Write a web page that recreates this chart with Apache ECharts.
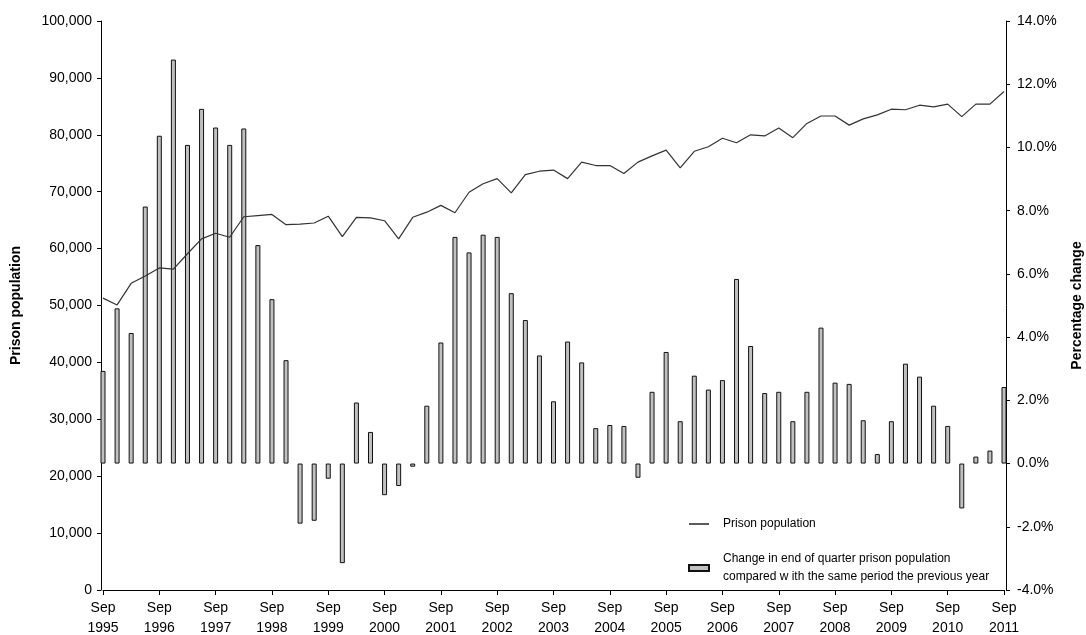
<!DOCTYPE html>
<html>
<head>
<meta charset="utf-8">
<script src="https://cdn.jsdelivr.net/npm/echarts@6/dist/echarts.min.js"></script>
<style>
  html, body { margin: 0; padding: 0; background: #fff; }
  #prison-chart { width: 1086px; height: 635px; }
</style>
</head>
<body>
<div id="prison-chart"></div>
<script>
// quarterly, Sep 1995 .. Sep 2011
const quarters = [
  'Sep 1995', 'Dec 1995', 'Mar 1996', 'Jun 1996', 'Sep 1996', 'Dec 1996', 'Mar 1997', 'Jun 1997',
  'Sep 1997', 'Dec 1997', 'Mar 1998', 'Jun 1998', 'Sep 1998', 'Dec 1998', 'Mar 1999', 'Jun 1999',
  'Sep 1999', 'Dec 1999', 'Mar 2000', 'Jun 2000', 'Sep 2000', 'Dec 2000', 'Mar 2001', 'Jun 2001',
  'Sep 2001', 'Dec 2001', 'Mar 2002', 'Jun 2002', 'Sep 2002', 'Dec 2002', 'Mar 2003', 'Jun 2003',
  'Sep 2003', 'Dec 2003', 'Mar 2004', 'Jun 2004', 'Sep 2004', 'Dec 2004', 'Mar 2005', 'Jun 2005',
  'Sep 2005', 'Dec 2005', 'Mar 2006', 'Jun 2006', 'Sep 2006', 'Dec 2006', 'Mar 2007', 'Jun 2007',
  'Sep 2007', 'Dec 2007', 'Mar 2008', 'Jun 2008', 'Sep 2008', 'Dec 2008', 'Mar 2009', 'Jun 2009',
  'Sep 2009', 'Dec 2009', 'Mar 2010', 'Jun 2010', 'Sep 2010', 'Dec 2010', 'Mar 2011', 'Jun 2011',
  'Sep 2011'
];

const population = [
  51300, 50100, 53900, 55200, 56600, 56400, 59100, 61700,
  62700, 62000, 65600, 65800, 66000, 64200, 64300, 64500,
  65700, 62100, 65500, 65400, 64900, 61700, 65500, 66400,
  67600, 66300, 69900, 71400, 72300, 69800, 73000, 73600,
  73800, 72300, 75200, 74600, 74600, 73200, 75200, 76300,
  77300, 74200, 77100, 77900, 79400, 78600, 80000, 79800,
  81200, 79500, 82000, 83300, 83300, 81700, 82800, 83500,
  84500, 84400, 85200, 84900, 85400, 83200, 85400, 85400,
  87600
];

const pctChange = [
  2.93, 4.91, 4.13, 8.13, 10.37, 12.78, 10.08, 11.22,
  10.63, 10.08, 10.60, 6.91, 5.20, 3.27, -1.90, -1.81,
  -0.48, -3.15, 1.93, 1.00, -1.00, -0.71, -0.10, 1.83,
  3.83, 7.17, 6.68, 7.24, 7.17, 5.39, 4.54, 3.42,
  1.97, 3.86, 3.20, 1.12, 1.22, 1.19, -0.45, 2.27,
  3.53, 1.34, 2.78, 2.34, 2.64, 5.84, 3.72, 2.23,
  2.27, 1.34, 2.27, 4.30, 2.56, 2.52, 1.37, 0.30,
  1.34, 3.16, 2.75, 1.83, 1.19, -1.42, 0.22, 0.41,
  2.42
];

const popTicks = { min: 0, max: 100000, interval: 10000 };
const pctTicks = { min: -4, max: 14, interval: 2 };

const lineName = 'Prison population';
const barName = 'Change in end of quarter prison population\ncompared w ith the same period the previous year';

const font = 'Liberation Sans, Arial, sans-serif';

const myChart = echarts.init(document.getElementById('prison-chart'));
const option = {
  animation: false,
  textStyle: { fontFamily: font },
  grid: {
    left: 103,
    right: 82,
    top: 21,
    bottom: 45,
    outerBoundsMode: 'none'
  },
  legend: {
    orient: 'vertical',
    left: 683,
    top: 510,
    itemWidth: 20,
    itemHeight: 6,
    itemGap: 17,
    textStyle: { fontFamily: font, fontSize: 12, color: '#000', lineHeight: 18, padding: [0, 0, 0, 9] },
    data: [
      { name: lineName, icon: 'path://M0,0H20V1.6H0Z' },
      { name: barName, icon: 'rect' }
    ]
  },
  xAxis: {
    type: 'category',
    boundaryGap: false,
    data: quarters,
    axisLine: { lineStyle: { color: '#000', width: 1 } },
    axisTick: { interval: 3, length: 5, lineStyle: { color: '#000' } },
    axisLabel: {
      interval: 3,
      color: '#000',
      fontSize: 14,
      fontFamily: font,
      lineHeight: 20,
      margin: 8,
      formatter: function (v) { return v.replace(' ', '\n'); }
    },
    splitLine: { show: false }
  },
  yAxis: [
    {
      type: 'value',
      position: 'left',
      offset: 2,
      min: popTicks.min,
      max: popTicks.max,
      interval: popTicks.interval,
      name: 'Prison population',
      nameLocation: 'middle',
      nameRotate: 90,
      nameGap: 78,
      nameTextStyle: { fontFamily: font, fontSize: 14, fontWeight: 'bold', color: '#000' },
      axisLine: { show: true, lineStyle: { color: '#000', width: 1 } },
      axisTick: { show: true, length: 4, lineStyle: { color: '#000' } },
      axisLabel: {
        color: '#000',
        fontSize: 14,
        fontFamily: font,
        margin: 9,
        formatter: function (v) { return v.toLocaleString('en-US'); }
      },
      splitLine: { show: false }
    },
    {
      type: 'value',
      position: 'right',
      offset: 2,
      min: pctTicks.min,
      max: pctTicks.max,
      interval: pctTicks.interval,
      name: 'Percentage change',
      nameLocation: 'middle',
      nameRotate: 90,
      nameGap: 64,
      nameTextStyle: { fontFamily: font, fontSize: 14, fontWeight: 'bold', color: '#000' },
      axisLine: { show: true, lineStyle: { color: '#000', width: 1 } },
      axisTick: { show: true, length: 4, lineStyle: { color: '#000' } },
      axisLabel: {
        color: '#000',
        fontSize: 14,
        fontFamily: font,
        margin: 11,
        formatter: function (v) { return v.toFixed(1) + '%'; }
      },
      splitLine: { show: false }
    }
  ],
  series: [
    {
      name: barName,
      type: 'bar',
      yAxisIndex: 1,
      barWidth: 5,
      itemStyle: {
        color: '#c0c0c0',
        borderColor: '#111',
        borderWidth: 1
      },
      data: pctChange
    },
    {
      name: lineName,
      type: 'line',
      yAxisIndex: 0,
      symbol: 'none',
      showSymbol: false,
      lineStyle: { color: '#333', width: 1.2 },
      itemStyle: { color: '#333' },
      data: population
    }
  ]
};
myChart.setOption(option);
</script>
</body>
</html>
